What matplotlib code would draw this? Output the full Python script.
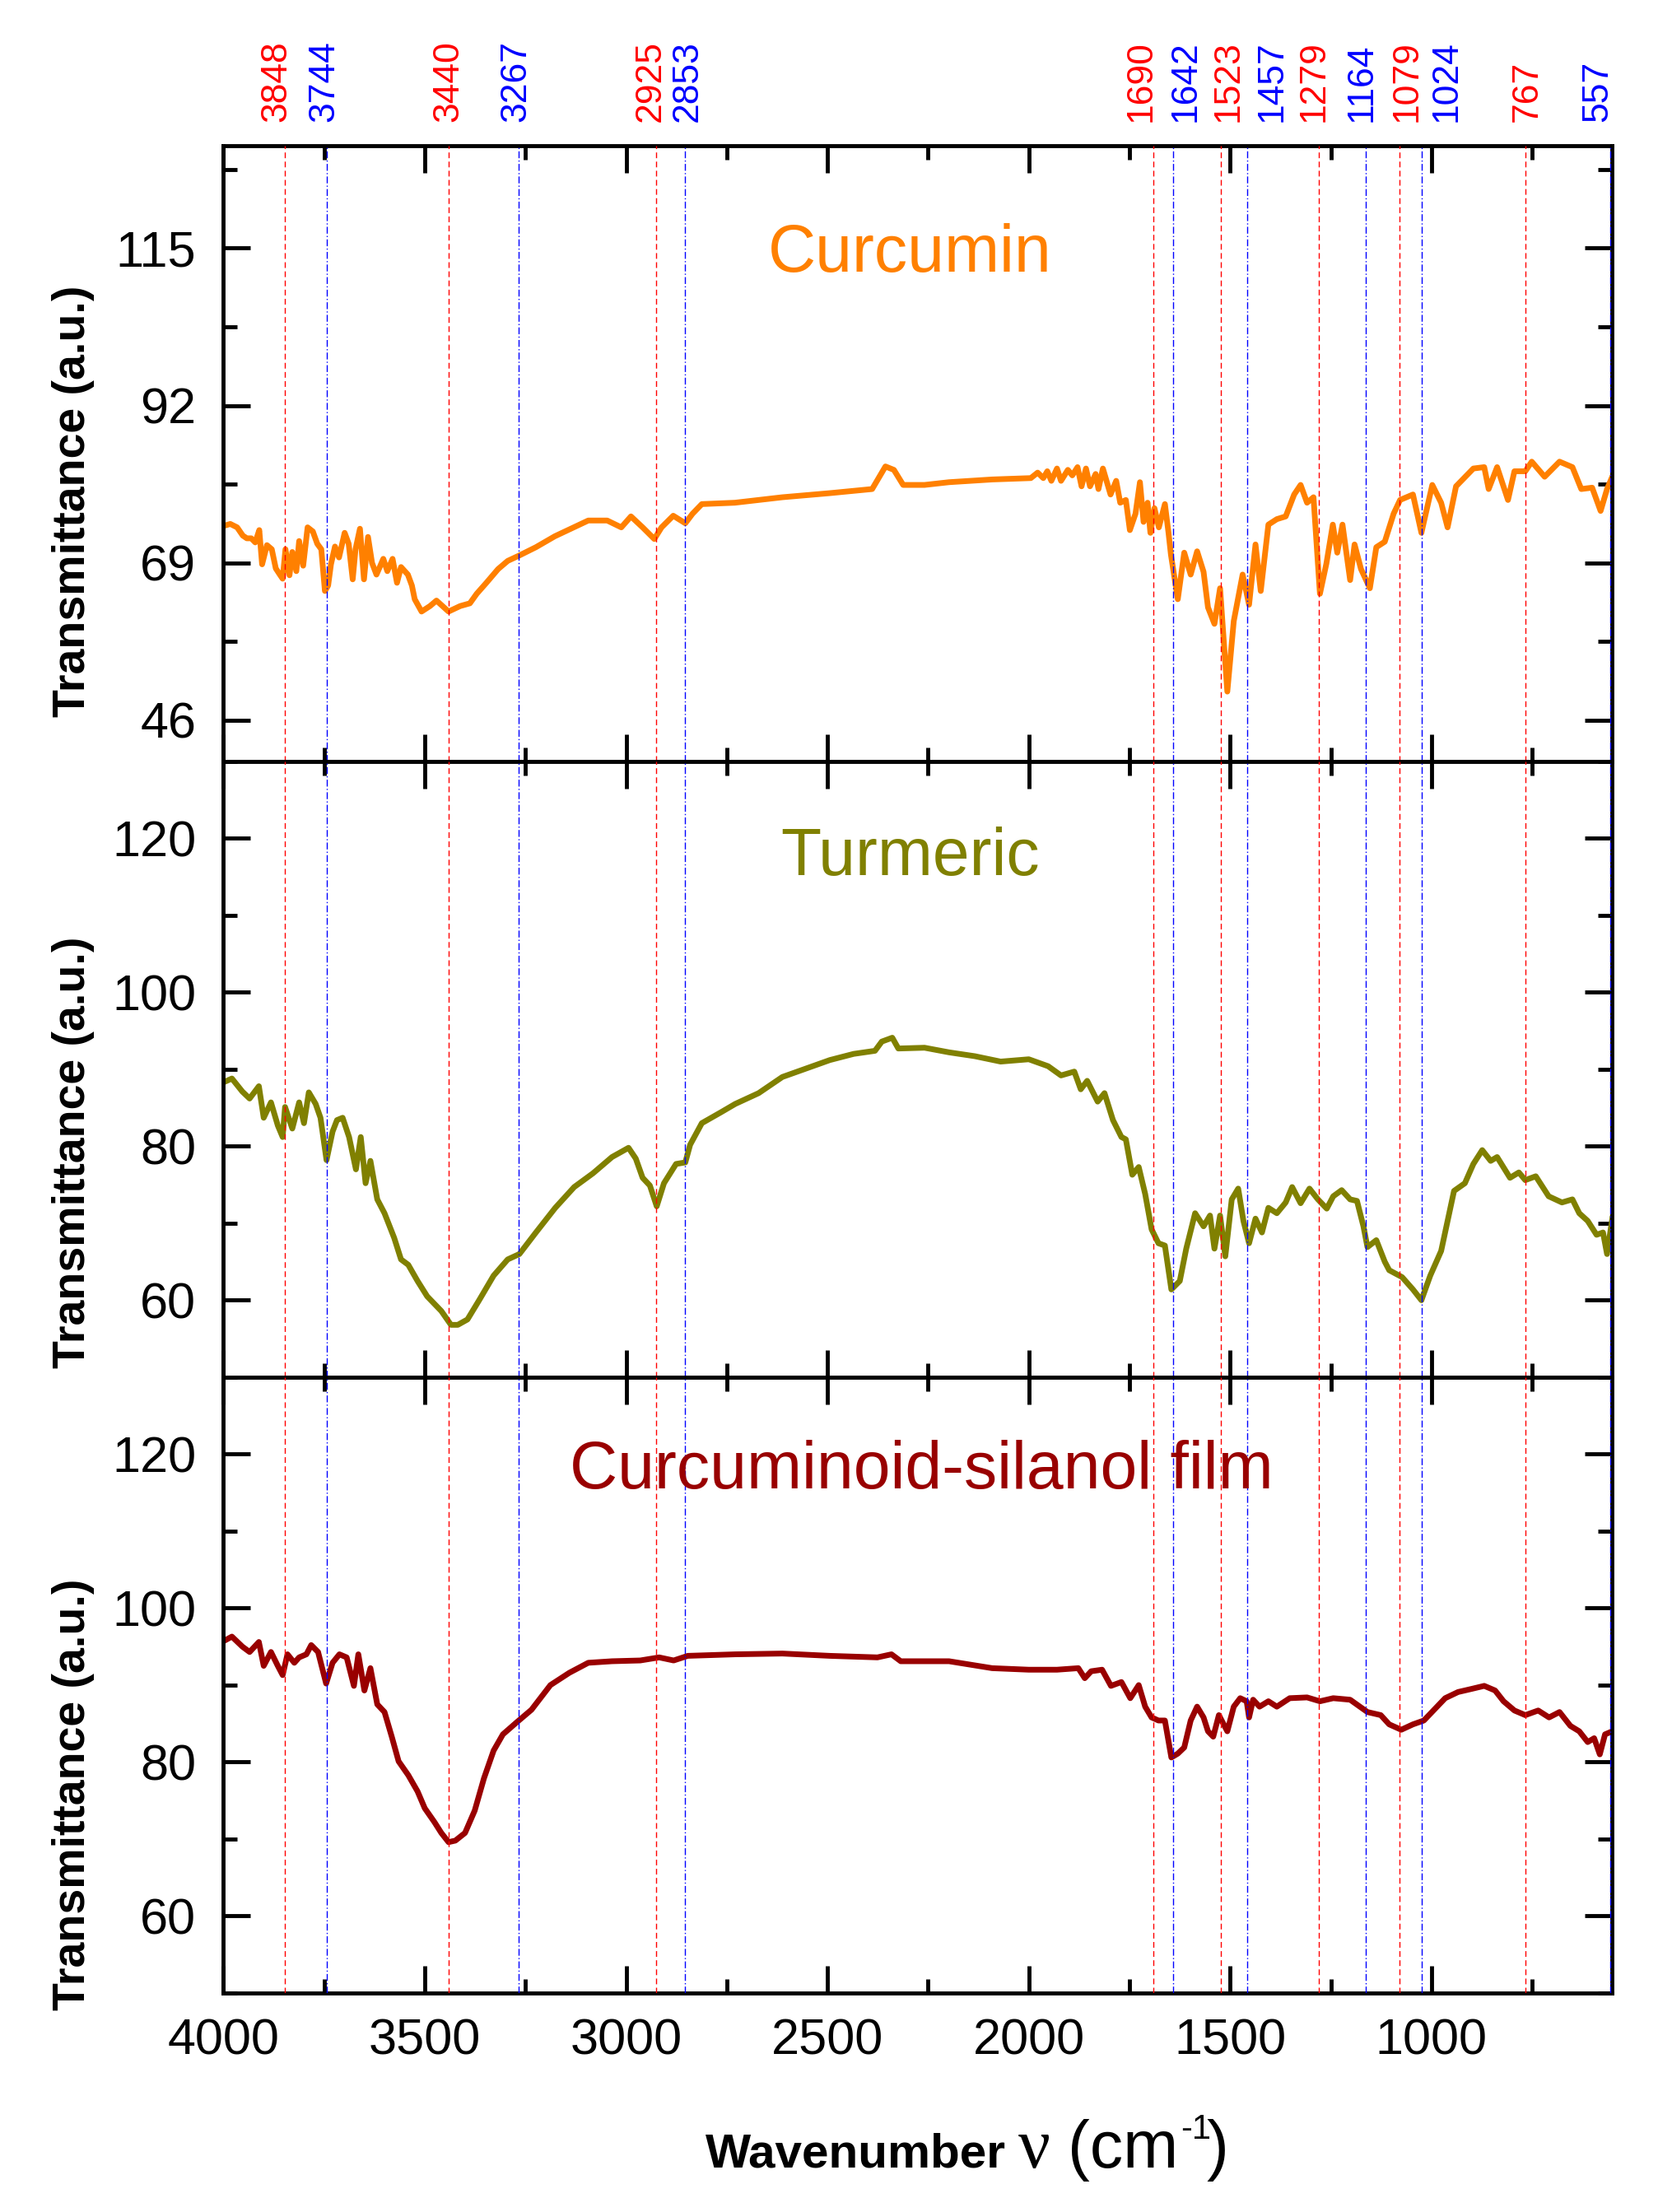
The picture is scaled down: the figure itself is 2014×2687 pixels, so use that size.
import numpy as np
import matplotlib
matplotlib.use('Agg')
import matplotlib.pyplot as plt
from matplotlib.ticker import MultipleLocator, FixedLocator
from matplotlib.transforms import blended_transform_factory

plt.rcParams['font.family'] = ['Liberation Sans', 'DejaVu Sans']

# curcumin spectrum
curcumin_wn = [4000, 3983, 3966, 3952, 3942, 3931, 3921, 3911, 3904, 3892, 3880, 3870, 3860, 3853, 3846, 3836,
               3829, 3819, 3812, 3802, 3791, 3778, 3767, 3757, 3748, 3740, 3733, 3723, 3713, 3699, 3689, 3679,
               3672, 3661, 3651, 3641, 3631, 3620, 3603, 3593, 3580, 3569, 3559, 3542, 3532, 3525, 3508, 3487,
               3471, 3441, 3412, 3388, 3371, 3347, 3318, 3294, 3265, 3224, 3177, 3130, 3094, 3047, 3012,
               2988, 2959, 2930, 2912, 2883, 2853, 2835, 2812, 2730, 2612, 2494, 2389, 2356, 2335, 2312, 2259,
               2198, 2091, 1995, 1978, 1964, 1954, 1944, 1930, 1920, 1903, 1892, 1879, 1869, 1858, 1848, 1834,
               1827, 1816, 1807, 1797, 1783, 1773, 1759, 1749, 1735, 1724, 1715, 1705, 1698, 1688, 1677, 1662,
               1653, 1647, 1630, 1614, 1598, 1582, 1566, 1555, 1539, 1525, 1507, 1491, 1469, 1453, 1437,
               1424, 1405, 1384, 1362, 1341, 1325, 1309, 1293, 1277, 1261, 1245, 1234, 1221, 1202, 1191, 1175,
               1153, 1137, 1116, 1094, 1078, 1046, 1025, 998, 976, 960, 939, 896, 869, 858, 837, 810,
               794, 767, 751, 719, 682, 650, 628, 601, 580, 564, 551]
curcumin_t = [74.4, 74.7, 74.2, 73.0, 72.6, 72.6, 72.0, 73.8, 68.8, 71.6, 71.0, 68.2, 67.3, 66.7, 71.0, 67.2,
              70.6, 67.8, 72.2, 68.6, 74.2, 73.6, 71.8, 71.0, 64.9, 65.7, 68.8, 71.4, 69.8, 73.4, 71.8, 66.6,
              71.0, 74.0, 66.6, 72.8, 69.0, 67.3, 69.6, 67.8, 69.6, 66.1, 68.4, 67.3, 65.7, 63.7, 61.9, 62.7,
              63.5, 61.9, 62.7, 63.1, 64.5, 66.1, 68.1, 69.3, 70.1, 71.3, 72.9, 74.2, 75.2, 75.2, 74.2,
              75.8, 74.2, 72.5, 74.2, 75.9, 74.8, 76.2, 77.6, 77.8, 78.6, 79.2, 79.8, 83.1, 82.6, 80.4, 80.4,
              80.8, 81.2, 81.4, 82.2, 81.4, 82.4, 81.0, 82.8, 81.0, 82.6, 81.8, 83.0, 80.2, 82.8, 80.2, 82.0,
              79.8, 82.8, 81.0, 79.0, 81.0, 77.8, 78.2, 73.8, 76.2, 80.8, 75.0, 77.8, 73.4, 77.0, 74.2, 77.6,
              73.4, 70.2, 63.7, 70.5, 67.3, 70.7, 67.7, 62.5, 60.1, 65.3, 50.2, 60.5, 67.3, 62.9, 71.7,
              64.9, 74.6, 75.4, 75.8, 79.0, 80.4, 77.8, 78.6, 64.5, 68.9, 74.6, 70.5, 74.6, 66.5, 71.7, 68.1,
              65.3, 71.3, 72.1, 76.2, 78.2, 79.0, 73.4, 80.4, 77.8, 74.2, 80.2, 82.8, 83.0, 79.8, 83.0, 78.2,
              82.4, 82.4, 83.8, 81.6, 83.8, 83.0, 79.8, 80.0, 76.6, 79.8, 81.6]

# turmeric spectrum
turmeric_wn = [4000, 3979, 3953, 3935, 3912, 3900, 3882, 3865, 3853, 3847, 3829, 3812, 3800, 3788, 3771, 3759,
               3744, 3729, 3718, 3704, 3688, 3671, 3659, 3647, 3635, 3618, 3600, 3576, 3559, 3541, 3518, 3494,
               3459, 3435, 3418, 3394, 3365, 3329, 3294, 3265, 3224, 3176, 3129, 3082, 3035, 2994, 2976, 2959,
               2941, 2924, 2906, 2876, 2853, 2841, 2812, 2765, 2729, 2671, 2612, 2553, 2494, 2435, 2382, 2365,
               2339, 2324, 2259, 2198, 2134, 2070, 2000, 1952, 1920, 1887, 1871, 1855, 1829, 1812, 1791, 1770,
               1759, 1743, 1727, 1711, 1695, 1678, 1662, 1646, 1625, 1609, 1587, 1566, 1550, 1539, 1525, 1512,
               1496, 1480, 1467, 1453, 1437, 1421, 1405, 1384, 1362, 1346, 1325, 1303, 1282, 1260, 1244, 1223,
               1202, 1185, 1169, 1159, 1137, 1116, 1105, 1073, 1046, 1025, 1003, 976, 944, 917, 896, 874,
               853, 837, 805, 783, 767, 741, 709, 676, 650, 633, 612, 590, 574, 564, 551]
turmeric_t = [88.3, 88.8, 87.1, 86.2, 87.8, 83.7, 85.7, 82.7, 81.2, 85.1, 82.3, 85.7, 83.0, 87.0, 85.5, 83.7,
              78.2, 81.9, 83.4, 83.7, 81.2, 77.0, 81.2, 75.2, 78.1, 73.1, 71.3, 68.1, 65.3, 64.6, 62.5, 60.5,
              58.6, 56.8, 56.8, 57.5, 60.0, 63.2, 65.3, 66.0, 68.8, 72.0, 74.7, 76.5, 78.6, 79.8, 78.4, 75.9,
              74.9, 72.2, 75.2, 77.7, 77.9, 80.2, 83.0, 84.4, 85.5, 86.9, 89.0, 90.1, 91.2, 92.0, 92.4, 93.6,
              94.1, 92.7, 92.8, 92.2, 91.7, 91.0, 91.3, 90.4, 89.2, 89.7, 87.4, 88.5, 85.8, 86.9, 83.4, 81.2,
              80.9, 76.3, 77.3, 73.8, 69.2, 67.4, 67.1, 61.4, 62.5, 66.7, 71.3, 69.6, 71.0, 66.7, 71.0, 65.7,
              73.1, 74.5, 70.3, 67.4, 70.6, 68.8, 72.0, 71.3, 72.7, 74.7, 72.6, 74.5, 73.1, 71.9, 73.5, 74.3,
              73.1, 72.9, 69.6, 66.9, 67.8, 65.0, 63.9, 63.0, 61.4, 60.0, 63.2, 66.4, 74.2, 75.2, 77.7, 79.5,
              78.1, 78.6, 75.9, 76.6, 75.6, 76.1, 73.5, 72.7, 73.1, 71.3, 70.3, 68.5, 68.8, 66.0, 70.6]

# curcuminoid-silanol film spectrum
film_wn = [4000, 3979, 3953, 3935, 3912, 3900, 3882, 3865, 3853, 3841, 3824, 3812, 3794, 3782, 3765, 3745,
           3729, 3712, 3694, 3676, 3665, 3650, 3635, 3618, 3600, 3582, 3565, 3541, 3518, 3500, 3476, 3459,
           3441, 3424, 3400, 3376, 3353, 3329, 3306, 3271, 3235, 3188, 3141, 3094, 3035, 2965, 2918, 2882,
           2847, 2729, 2612, 2494, 2376, 2341, 2318, 2198, 2091, 2000, 1930, 1877, 1861, 1845, 1818, 1796,
           1770, 1748, 1727, 1711, 1695, 1678, 1662, 1646, 1630, 1614, 1598, 1582, 1566, 1555, 1542, 1528,
           1507, 1491, 1475, 1459, 1453, 1443, 1427, 1405, 1384, 1352, 1309, 1277, 1244, 1202, 1159, 1126,
           1105, 1075, 1046, 1019, 966, 934, 901, 869, 842, 821, 794, 767, 735, 708, 682, 655,
           633, 612, 596, 582, 569, 551]
film_t = [95.7, 96.3, 95.0, 94.3, 95.6, 92.5, 94.3, 92.5, 91.3, 94.0, 92.9, 93.6, 94.0, 95.2, 94.3, 90.2,
          92.9, 94.0, 93.6, 89.9, 94.0, 89.3, 92.2, 87.5, 86.5, 83.3, 80.1, 78.3, 76.2, 74.0, 72.2, 70.8,
          69.6, 69.8, 70.8, 73.7, 77.9, 81.5, 83.6, 85.2, 86.8, 90.0, 91.6, 92.9, 93.1, 93.2, 93.6, 93.2,
          93.8, 94.0, 94.1, 93.8, 93.6, 94.0, 93.1, 93.1, 92.2, 92.0, 92.0, 92.2, 90.9, 91.8, 92.0, 89.9,
          90.4, 88.3, 90.0, 87.2, 85.8, 85.4, 85.4, 80.6, 81.1, 81.9, 85.4, 87.2, 85.8, 84.0, 83.3, 86.1,
          84.0, 87.2, 88.3, 87.9, 85.8, 88.1, 87.2, 87.9, 87.2, 88.3, 88.4, 87.9, 88.3, 88.1, 86.5, 86.1,
          84.9, 84.2, 84.9, 85.4, 88.3, 89.1, 89.5, 89.9, 89.3, 87.9, 86.7, 86.1, 86.7, 85.8, 86.5, 84.7,
          84.0, 82.6, 83.1, 81.0, 83.6, 84.0]

# marked bands, alternating red / blue
peaks = [3848, 3744, 3440, 3267, 2925, 2853, 1690, 1642, 1523, 1457, 1279, 1164, 1079, 1024, 767, 557]
peak_colors = ['red', 'blue'] * 8
# where the rotated labels sit so they don't overlap
label_x = [3868, 3750, 3440, 3273, 2940, 2848, 1722, 1610, 1505, 1397, 1292, 1174, 1060, 962, 763, 588]

names = ['Curcumin', 'Turmeric', 'Curcuminoid-silanol film']
colors = ['#ff8000', '#808000', '#990000']
title_pos = [(0.5485, 0.885), (0.5485, 0.6122), (0.5553, 0.3348)]
ylabel_y = [0.7736, 0.479, 0.1888]

fig, axes = plt.subplots(3, 1, figsize=(20.15, 26.87), dpi=100, sharex=True)
fig.subplots_adjust(left=0.1347, right=0.9717, top=0.9342, bottom=0.099, hspace=0)

series = [(curcumin_wn, curcumin_t), (turmeric_wn, turmeric_t), (film_wn, film_t)]
for i, ax in enumerate(axes):
    wn, t = series[i]
    ax.plot(wn, t, color=colors[i], lw=5, zorder=2)
    for p, c in zip(peaks, peak_colors):
        if c == 'red':
            ax.axvline(p, color='red', lw=1.0, ls=(0, (5, 3)), zorder=3)
        else:
            ax.axvline(p, color='blue', lw=1.0, ls=(0, (6, 2, 1, 2)), zorder=3)
    ax.set_xlim(4000, 552)
    if i == 0:
        ax.set_ylim(40, 130)
        ax.yaxis.set_major_locator(MultipleLocator(23))
        ax.yaxis.set_minor_locator(MultipleLocator(11.5))
    else:
        ax.set_ylim(50, 130)
        ax.yaxis.set_major_locator(MultipleLocator(20))
        ax.yaxis.set_minor_locator(MultipleLocator(10))
    ax.xaxis.set_major_locator(MultipleLocator(500))
    ax.xaxis.set_minor_locator(MultipleLocator(250))
    for s in ax.spines.values():
        s.set_linewidth(3.5)
    ax.tick_params(which='both', direction='in', top=True, right=True, width=3.5)
    ax.tick_params(which='major', length=24)
    ax.tick_params(which='minor', length=12)
    ax.tick_params(axis='y', labelsize=44, pad=24)
    ax.tick_params(axis='x', labelsize=44, pad=22)
    fig.text(title_pos[i][0], title_pos[i][1], names[i], color=colors[i], fontsize=58,
             ha='center', va='center')
    fig.text(0.0442, ylabel_y[i], 'Transmittance (a.u.)', rotation=90, fontsize=40,
             fontweight='bold', ha='center', va='center')

# only 4000..1000 are labelled on the bottom axis
axes[2].xaxis.set_major_locator(FixedLocator([4000, 3500, 3000, 2500, 2000, 1500, 1000]))
trans = blended_transform_factory(axes[0].transData, fig.transFigure)
for p, c, lx in zip(peaks, peak_colors, label_x):
    axes[0].text(lx, 0.9449, str(p), color=c, fontsize=32, rotation=90,
                 ha='center', va='bottom', transform=trans, clip_on=False)

# x label in pieces: bold word, then nu(cm^-1)
fig.text(0.4253, 0.0201, 'Wavenumber', fontsize=42, fontweight='bold', ha='left', va='baseline')
fig.text(0.6139, 0.0201, '\u03bd', fontsize=62, family=['Liberation Serif', 'DejaVu Serif'],
         ha='left', va='baseline')
fig.text(0.6437, 0.0201, '(cm', fontsize=58, ha='left', va='baseline')
fig.text(0.7115, 0.033, '-1', fontsize=30, ha='left', va='baseline')
fig.text(0.7275, 0.0201, ')', fontsize=58, ha='left', va='baseline')

fig.savefig('out.png', dpi=100)
